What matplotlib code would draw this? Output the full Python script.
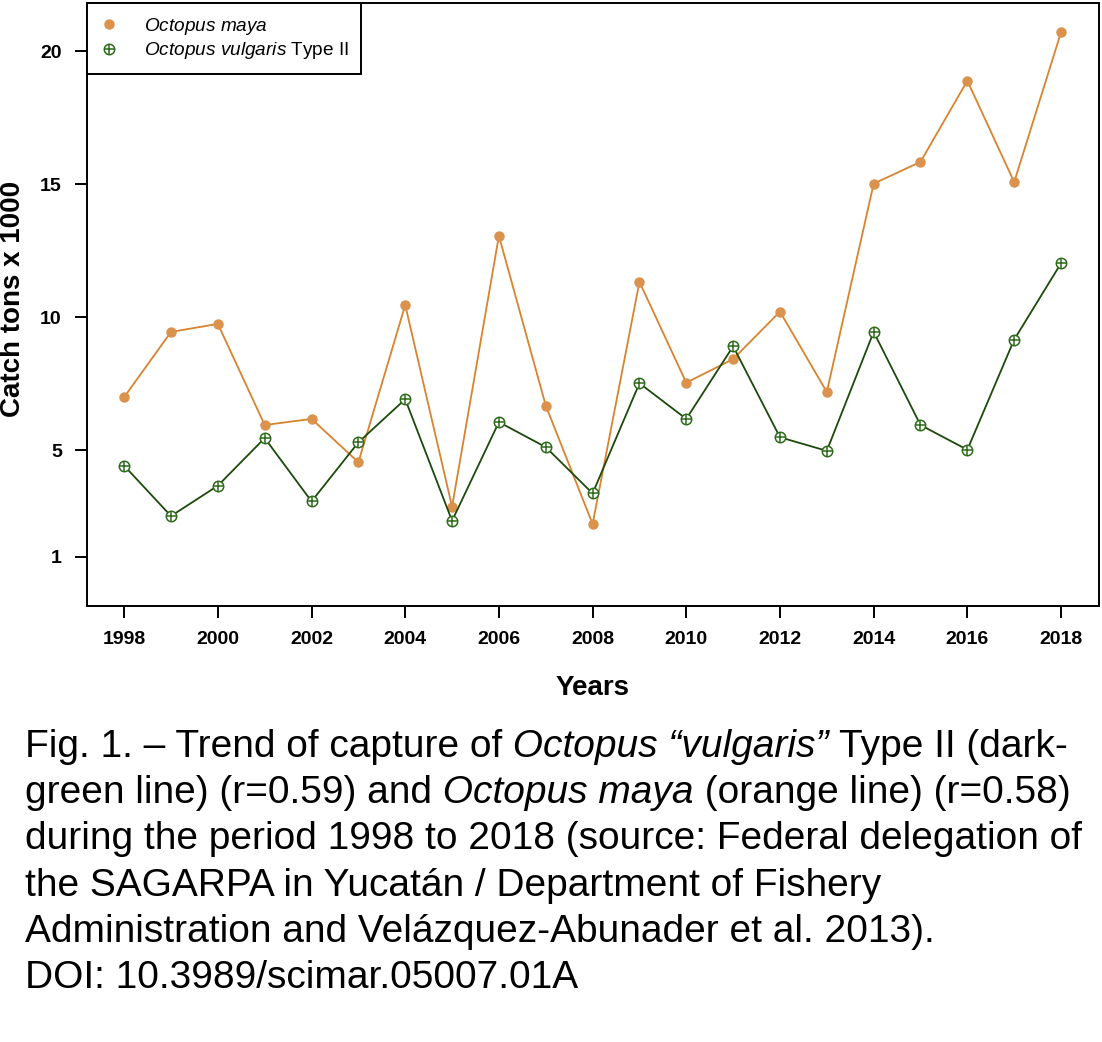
import matplotlib
matplotlib.use("Agg")
import matplotlib.pyplot as plt
from matplotlib.lines import Line2D

plt.rcParams['font.family'] = ['Liberation Sans', 'DejaVu Sans']
plt.rcParams['mathtext.fontset'] = 'custom'
plt.rcParams['mathtext.rm'] = 'Liberation Sans'
plt.rcParams['mathtext.it'] = 'Liberation Sans:italic'

# catch, tons x 1000
years = list(range(1998, 2019))
maya = [7.00, 9.45, 9.75, 5.95, 6.18, 4.55, 10.46, 2.88, 13.06, 6.68, 2.23,
        11.33, 7.54, 8.43, 10.21, 7.19, 15.02, 15.84, 18.89, 15.08, 20.71]
vulgaris = [4.42, 2.53, 3.67, 5.46, 3.08, 5.30, 6.92, 2.35, 6.06, 5.12, 3.38,
            7.52, 6.18, 8.91, 5.49, 4.98, 9.45, 5.95, 5.02, 9.16, 12.03]

x_ticks = list(range(1998, 2019, 2))
y_ticks = [1, 5, 10, 15, 20]

caption = [
  [("Fig. 1. – Trend of capture of", 'normal'), (" Octopus “vulgaris”", 'italic'),
   (" Type II (dark-", 'normal')],
  [("green line) (r=0.59) and", 'normal'), (" Octopus maya", 'italic'),
   (" (orange line) (r=0.58)", 'normal')],
  [("during the period 1998 to 2018 (source: Federal delegation of", 'normal')],
  [("the SAGARPA in Yucatán / Department of Fishery", 'normal')],
  [("Administration and Velázquez-Abunader et al. 2013).", 'normal')],
  [("DOI: 10.3989/scimar.05007.01A", 'normal')],
]
caption_baselines = [756.7, 803.0, 849.3, 895.6, 941.9, 988.2]

ORANGE_LINE = '#D8832E'
ORANGE_MK = '#DA924C'
GREEN_LINE = '#1B4A0A'
GREEN_MK = '#2D6A1A'
CAP_SIZE = 28

W, H = 1102, 1042
fig = plt.figure(figsize=(W / 100, H / 100), dpi=100)
left, right, top, bottom = 86.7, 1098.5, 3.3, 605.7
ax = fig.add_axes([left / W, (H - bottom) / H, (right - left) / W, (bottom - top) / H])

ax.plot(years, maya, color=ORANGE_LINE, linewidth=1.3, zorder=2)
ax.plot(years, maya, linestyle='none', marker='o', markersize=6.5,
        color=ORANGE_MK, zorder=3)
ax.plot(years, vulgaris, color=GREEN_LINE, linewidth=1.3, zorder=4)
ax.plot(years, vulgaris, linestyle='none', marker='o', markersize=7.5,
        mfc='white', mec=GREEN_MK, mew=1.1, zorder=5)
ax.plot(years, vulgaris, linestyle='none', marker='+', markersize=7.5,
        mec=GREEN_MK, mew=1.1, zorder=6)

ax.set_xlim(1997.2, 2018.8)
ax.set_ylim(-0.84, 21.8)
ax.set_xticks(x_ticks)
ax.set_xticklabels([str(y) for y in x_ticks], fontweight='bold')
ax.set_yticks(y_ticks)
ax.set_yticklabels([str(v) for v in y_ticks], fontweight='bold')
ax.tick_params(direction='out', length=8.5, width=1.4, pad=9.4,
               labelsize=14, colors='black')
for sp in ax.spines.values():
  sp.set_linewidth(1.4)

h1 = Line2D([], [], linestyle='none', marker='o', markersize=6.5, color=ORANGE_MK)
h2a = Line2D([], [], linestyle='none', marker='o', markersize=7.5,
             mfc='white', mec=GREEN_MK, mew=1.1)
h2b = Line2D([], [], linestyle='none', marker='+', markersize=7.5,
             mec=GREEN_MK, mew=1.1)
leg = ax.legend([h1, (h2a, h2b)],
                [r"$\mathit{Octopus\ maya}$", r"$\mathit{Octopus\ vulgaris}$ Type II"],
                loc='upper left', borderaxespad=0, fancybox=False,
                edgecolor='black', framealpha=1, fontsize=13.7,
                borderpad=0.65, labelspacing=0.2, handlelength=1.05,
                handletextpad=1.33)
leg.get_frame().set_linewidth(1.4)

fig.text(592.6 / W, (H - 695) / H, 'Years', ha='center', va='baseline',
         fontsize=20, fontweight='bold')
fig.text(13 / W, (H - 299) / H, 'Catch tons x 1000', rotation=90,
         ha='center', va='center', fontsize=20, fontweight='bold')

# caption, chained so italic parts sit inline
for segs, base in zip(caption, caption_baselines):
  txt = fig.text(25 / W, (H - base) / H, segs[0][0], fontsize=CAP_SIZE,
                 fontstyle=segs[0][1], va='baseline', ha='left')
  for s, style in segs[1:]:
    txt = ax.annotate(s, xycoords=txt, xy=(1, 0), va='bottom', ha='left',
                      fontsize=CAP_SIZE, fontstyle=style, annotation_clip=False)

fig.savefig('out.png', dpi=100)
plt.close(fig)
